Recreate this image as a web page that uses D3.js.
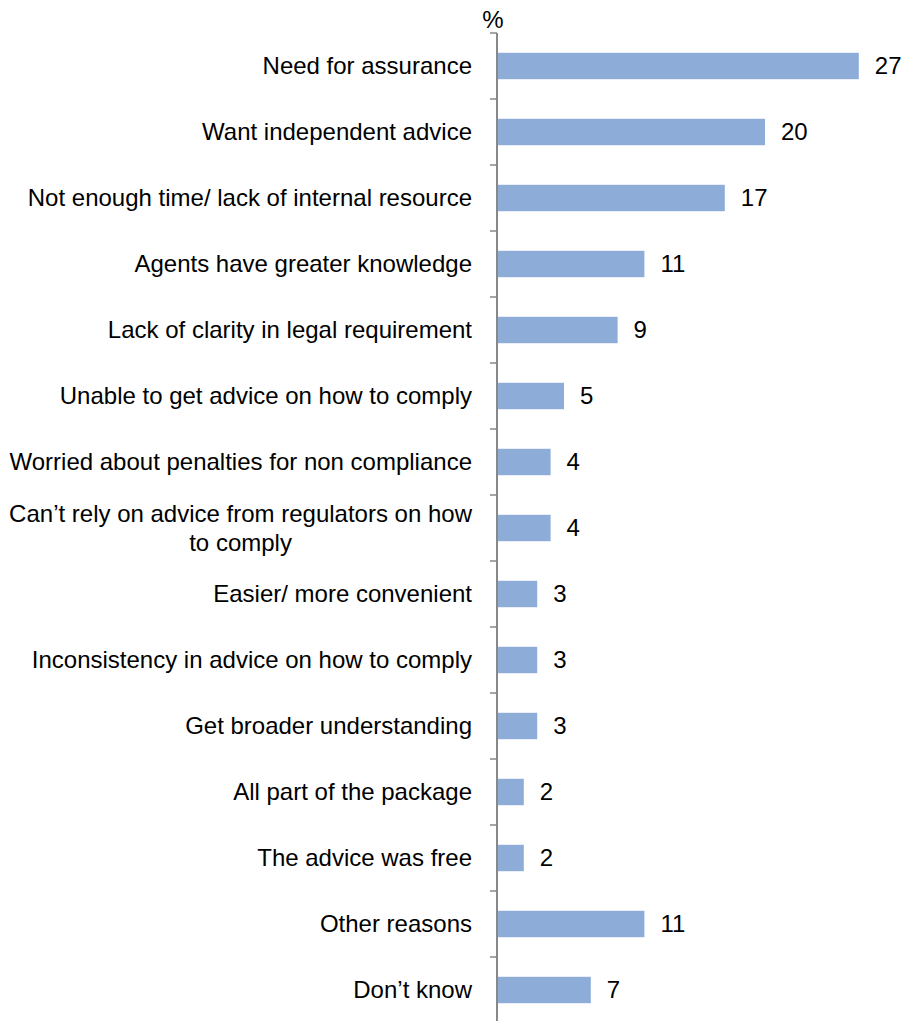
<!DOCTYPE html>
<html>
<head>
<meta charset="utf-8">
<script src="https://cdn.jsdelivr.net/npm/d3@7"></script>
<style>
  html, body { margin: 0; padding: 0; background: #fff; }
  svg { display: block; }
  text { font-family: "Liberation Sans", Arial, sans-serif; fill: #000; }
</style>
</head>
<body>
<svg id="chart" width="904" height="1021"></svg>
<script>
// Reasons given for using an agent (%)
const categories = [
  "Need for assurance",
  "Want independent advice",
  "Not enough time/ lack of internal resource",
  "Agents have greater knowledge",
  "Lack of clarity in legal requirement",
  "Unable to get advice on how to comply",
  "Worried about penalties for non compliance",
  "Can\u2019t rely on advice from regulators on how|to comply",
  "Easier/ more convenient",
  "Inconsistency in advice on how to comply",
  "Get broader understanding",
  "All part of the package",
  "The advice was free",
  "Other reasons",
  "Don\u2019t know"
];
const values = [27, 20, 17, 11, 9, 5, 4, 4, 3, 3, 3, 2, 2, 11, 7];
const axisUnit = "%";

const svg = d3.select("#chart");
const axisX = 497;
const fontSize = 24;

const x = d3.scaleLinear().domain([0, 30]).range([axisX, 899]);
const y = d3.scaleBand().domain(categories).range([33, 1023]).paddingInner(0.6).paddingOuter(0.3);

// Bars
svg.append("g").selectAll("rect")
  .data(values)
  .join("rect")
  .attr("x", x(0))
  .attr("y", (d, i) => y(categories[i]))
  .attr("width", d => x(d) - x(0))
  .attr("height", y.bandwidth())
  .attr("fill", "#8DACD8");

// Value labels
svg.append("g").selectAll("text")
  .data(values)
  .join("text")
  .attr("x", d => x(d) + 16)
  .attr("y", (d, i) => y(categories[i]) + y.bandwidth() / 2)
  .attr("dy", "0.35em")
  .attr("font-size", fontSize)
  .text(d => d);

// Category axis with ticks between bands
const step = y.step();
const tickYs = d3.range(categories.length + 1).map(i => 33 + i * step).filter(v => v <= 1021);
const axisG = svg.append("g");
axisG.append("line")
  .attr("x1", axisX).attr("x2", axisX)
  .attr("y1", 33).attr("y2", 1021)
  .attr("stroke", "#888").attr("stroke-width", 2);
axisG.selectAll("line.tick")
  .data(tickYs)
  .join("line")
  .attr("class", "tick")
  .attr("x1", axisX - 7).attr("x2", axisX)
  .attr("y1", d => d).attr("y2", d => d)
  .attr("stroke", "#888").attr("stroke-width", 1.5);

// Category labels (multi-line labels are centred within their block)
const labelRight = 472;
const lineH = 29;
categories.forEach(c => {
  const lines = c.split("|");
  const cy = y(c) + y.bandwidth() / 2;
  if (lines.length === 1) {
    svg.append("text")
      .attr("font-size", fontSize)
      .attr("text-anchor", "end")
      .attr("x", labelRight).attr("y", cy).attr("dy", "0.35em").text(c);
  } else {
    const g = svg.append("g");
    const texts = lines.map((ln, k) => g.append("text")
      .attr("font-size", fontSize)
      .attr("y", cy + (k - (lines.length - 1) / 2) * lineH)
      .attr("dy", "0.35em")
      .text(ln));
    const maxW = d3.max(texts, tx => tx.node().getComputedTextLength());
    const centre = labelRight - maxW / 2;
    texts.forEach(tx => tx.attr("x", centre).attr("text-anchor", "middle"));
  }
});

// Unit label
svg.append("text")
  .attr("x", 493)
  .attr("y", 28)
  .attr("text-anchor", "middle")
  .attr("font-size", fontSize)
  .text(axisUnit);
</script>
</body>
</html>
